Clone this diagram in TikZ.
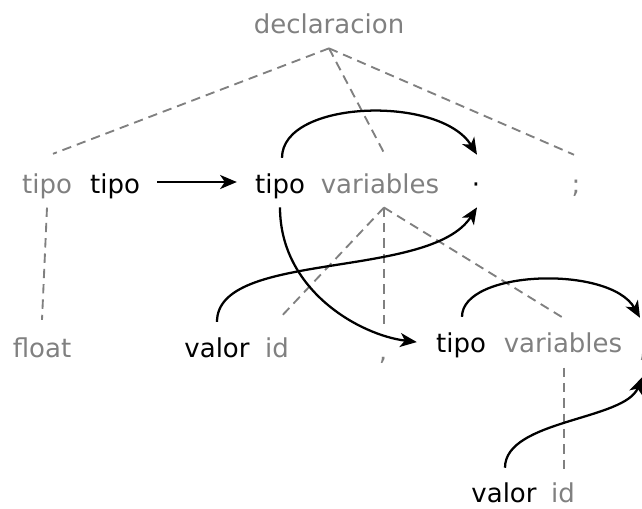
\documentclass[tikz,border=0pt]{standalone}
\usepackage{fontspec}
\setmainfont{DejaVu Sans}
\usetikzlibrary{arrows.meta}
\definecolor{leafgray}{HTML}{808080}

\begin{document}
\begin{tikzpicture}[x=0.75pt,y=-0.75pt,
	every node/.style={font=\fontsize{19.5pt}{23pt}\selectfont, inner sep=0pt, text height=14.6pt, text depth=4.7pt, anchor=base},
	sym/.style={text=leafgray},
	attr/.style={text=black},
	rama/.style={draw=leafgray, line width=1.4pt, dash pattern=on 7pt off 4.5pt},
	flecha/.style={line width=1.7pt, -{Stealth[length=12.5pt,width=10.5pt,inset=3.5pt]}}]
		\useasboundingbox (0,0) rectangle (642,508);
		\begin{scope}
		\node[sym] (decl) at (329,33) {declaracion};
		\node[sym] (tipoA) at (47,193) {tipo};
		\node[attr] (tipoB) at (115,193) {tipo};
		\node[attr] (tipoC) at (280,193) {tipo};
		\node[sym] (varA) at (380,193) {variables};
		\node[attr] (puntoA) at (476,193) {·};
		\node[sym] (semi) at (576,193) {;};
		\node[sym] (float) at (42,357) {float};
		\node[attr] (valorA) at (217,357) {valor};
		\node[sym] (idA) at (277,357) {id};
		\node[sym] (comaA) at (383,360) {,};
		\node[attr] (tipoD) at (461,352) {tipo};
		\node[sym] (varB) at (563,352) {variables};
		\node[sym] (comaB) at (643,357) {,};
		\node[attr] (valorB) at (504,502) {valor};
		\node[sym] (idB) at (563,502) {id};
		\draw[rama] ([yshift=-6.6pt]decl.south) -- ([xshift=4.5pt,yshift=14.6pt]tipoA.north);
		\draw[rama] ([yshift=-6.6pt]decl.south) -- ([xshift=3.75pt,yshift=13.9pt]varA.north);
		\draw[rama] ([yshift=-6.6pt]decl.south) -- ([xshift=-1.5pt,yshift=13.9pt]semi.north);
		\draw[rama] ([yshift=-6pt]tipoA.south) -- ([yshift=13pt]float.north);
		\draw[rama] ([xshift=3pt,yshift=-6pt]varA.south) -- ([xshift=2.25pt,yshift=14.6pt]idA.north);
		\draw[rama] ([xshift=3pt,yshift=-6pt]varA.south) -- ([xshift=0.75pt,yshift=9.4pt]comaA.north);
		\draw[rama] ([xshift=3pt,yshift=-6pt]varA.south) -- ([yshift=10.9pt]varB.north);
		\draw[rama] ([xshift=0.75pt,yshift=-6.75pt]varB.south) -- ([xshift=0.75pt,yshift=9.4pt]idB.north);
		\draw[flecha] ([xshift=12.75pt,yshift=3.3pt]tipoB.east) -- ([xshift=-13.5pt,yshift=3.3pt]tipoC.west);
		\draw[flecha] ([xshift=1.5pt,yshift=11.6pt]tipoC.north) .. controls +(0,-58) and +(-37,-60) .. ([xshift=0.75pt,yshift=13.9pt]puntoA.north);
		\draw[flecha] ([yshift=-5.85pt]tipoC.south) .. controls +(0,83) and +(-57,-7) .. ([xshift=-14.25pt,yshift=2.5pt]tipoD.west);
		\draw[flecha] ([yshift=11.6pt]valorA.north) .. controls +(0,-72) and +(-47,73) .. ([xshift=0.75pt,yshift=-5.85pt]puntoA.south);
		\draw[flecha] ([xshift=0.75pt,yshift=11.6pt]tipoD.north) .. controls +(0,-47) and +(-30,-53) .. ([xshift=-2.25pt,yshift=14.6pt]comaB.north);
		\draw[flecha] ([xshift=0.75pt,yshift=10.9pt]valorB.north) .. controls +(0,-48) and +(-17,43) .. ([xshift=-0.75pt,yshift=-10.4pt]comaB.south);
		\end{scope}
\end{tikzpicture}
\end{document}
